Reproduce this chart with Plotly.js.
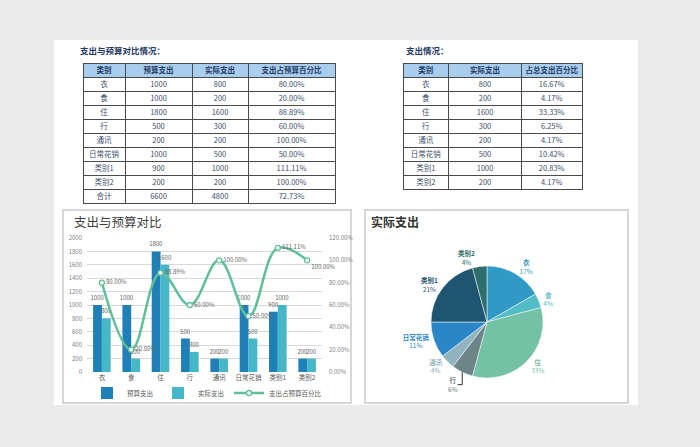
<!DOCTYPE html>
<html><head><meta charset="utf-8">
<script src="https://cdn.plot.ly/plotly-3.0.1.min.js"></script>
<style>html,body{margin:0;padding:0;background:#ebebeb}</style>
</head><body><div id="chart" style="width:700px;height:447px"></div>
<script>
// ---- data ----
const categories = ['衣','食','住','行','通讯','日常花销','类别1','类别2'];
const budget = [1000,1000,1800,500,200,1000,900,200];
const actual = [800,200,1600,300,200,500,1000,200];
const pieShareLabels = ['17%','4%','33%','6%','4%','11%','21%','4%'];
const table1Header = ['类别','预算支出','实际支出','支出占预算百分比'];
const table2Header = ['类别','实际支出','占总支出百分比'];
const totalLabel = '合计';
const seriesNames = ['预算支出','实际支出','支出占预算百分比'];

// ---- derived ----
const pct = v => (v*100).toFixed(2) + '%';
const totalBudget = budget.reduce((a,b)=>a+b,0);
const totalActual = actual.reduce((a,b)=>a+b,0);
const ratio = actual.map((a,i)=>a/budget[i]);
const ratioText = ratio.map(pct);
const t1cat = categories.concat([totalLabel]);
const t1bud = budget.concat([totalBudget]);
const t1act = actual.concat([totalActual]);
const t1pct = ratioText.concat([pct(totalActual/totalBudget)]);
const t2pct = actual.map(a=>pct(a/totalActual));

// ---- layout helpers ----
const W=700,H=447;
const px = x => x/W, py = y => 1 - y/H;
const FONT = '"Noto Sans CJK SC", "Noto Sans", sans-serif';
const pieColors = ['#3199c5','#52bcc6','#74c1a5','#6b8589','#90b3bd','#2a86c6','#1f5570','#2e6e6c'];
const TXT_LIFT = 3.5; // table text lifted to sit centred in 14px rows

// two stacked table traces per table: a grid layer (fills + borders, blank text)
// and a text layer (no fills/borders) lifted slightly so the text is centred in each row
function makeTable(header, cols, widths, x0, x1, top, textLayer){
  const clear = 'rgba(0,0,0,0)';
  const t = top - (textLayer ? TXT_LIFT : 0);
  const hv = textLayer ? header : header.map(()=>'');
  const cv = textLayer ? cols : cols.map(c=>c.map(()=>''));
  return {type:'table', domain:{x:[px(x0),px(x1)], y:[0.5,py(t)]},
    columnwidth:widths,
    header:{values:hv, fill:{color: textLayer ? clear : '#a9cdec'},
            line:{color:'#4a4a4a', width: textLayer ? 0 : 1},
            font:{family:FONT,size:7.5,weight:'bold',color:'#1f3864'}, align:'center', height:14},
    cells:{values:cv, fill:{color: textLayer ? clear : '#ffffff'},
           line:{color:'#4a4a4a', width: textLayer ? 0 : 1},
           font:{family:FONT,size:7.5,color:'#3d4f6e'}, align:'center', height:14}};
}

const t1cols = [t1cat,t1bud,t1act,t1pct];
const t2cols = [categories,actual,t2pct];

const traces = [
  makeTable(table1Header, t1cols, [42,67,56,87], 83, 335, 63, false),
  makeTable(table1Header, t1cols, [42,67,56,87], 83, 335, 63, true),
  makeTable(table2Header, t2cols, [46,73,61], 403, 583, 63, false),
  makeTable(table2Header, t2cols, [46,73,61], 403, 583, 63, true),
  {type:'bar', x:categories, y:budget, name:seriesNames[0], xaxis:'x', yaxis:'y',
   marker:{color:'#1f80b7'}, text:budget.map(String), textposition:'outside', cliponaxis:false,
   constraintext:'none', textangle:0, textfont:{family:FONT,size:6,color:'#666'}},
  {type:'bar', x:categories, y:actual, name:seriesNames[1], xaxis:'x', yaxis:'y',
   marker:{color:'#46b6c9'}, text:actual.map(String), textposition:'outside', cliponaxis:false,
   constraintext:'none', textangle:0, textfont:{family:FONT,size:6,color:'#666'}},
  {type:'scatter', x:categories, y:ratio, name:seriesNames[2], xaxis:'x', yaxis:'y2',
   mode:'lines+markers+text', line:{shape:'spline', smoothing:1.1, color:'#5ebf99', width:2.5},
   marker:{size:5, color:'#ffffff', line:{color:'#5ebf99', width:1.3}},
   text:ratioText, textposition:['middle right','middle right','middle right','middle right','middle right','middle right','middle right','bottom right'],
   textfont:{family:FONT,size:6,color:'#666'}, cliponaxis:false},
  {type:'pie', labels:categories, values:actual, sort:false, direction:'clockwise', rotation:0,
   domain:{x:[px(431),px(543)], y:[py(378),py(266)]},
   marker:{colors:pieColors, line:{color:'#ffffff', width:0.5}},
   text:pieShareLabels, texttemplate:'<b>%{label}</b><br>%{text}', textposition:'outside',
   textfont:{family:FONT,size:6.5,color:pieColors}, showlegend:false}
];

const layout = {
  width:W, height:H, margin:{l:0,r:0,t:0,b:0},
  paper_bgcolor:'#ebebeb', plot_bgcolor:'rgba(0,0,0,0)',
  font:{family:FONT},
  barmode:'group', bargap:0.4, bargroupgap:0,
  xaxis:{domain:[px(87),px(322)], anchor:'y', showgrid:false, zeroline:false, showline:false, ticks:'',
         tickfont:{family:FONT,size:6.5,color:'#595959'}, fixedrange:true},
  yaxis:{domain:[py(372),py(238)], range:[0,2000], dtick:200, gridcolor:'#d9d9d9', gridwidth:1,
         zeroline:false, showline:false, ticks:'', tickfont:{family:FONT,size:6,color:'#7f7f7f'}, ticklabelstandoff:4},
  yaxis2:{overlaying:'y', side:'right', anchor:'x', range:[0,1.2], dtick:0.2, tickformat:'.2%', showgrid:false,
          zeroline:false, showline:false, ticks:'', tickfont:{family:FONT,size:6,color:'#7f7f7f'}, ticklabelstandoff:6},
  showlegend:true,
  legend:{orientation:'h', x:px(207), xanchor:'center', y:py(393), yanchor:'middle',
          font:{family:FONT,size:6.5,color:'#595959'}, bgcolor:'rgba(0,0,0,0)', traceorder:'normal',
          itemwidth:30, tracegroupgap:0},
  shapes:[
    {type:'rect', xref:'paper', yref:'paper', x0:px(54), x1:px(638), y0:py(405), y1:py(40),
     fillcolor:'#ffffff', line:{width:0}, layer:'below'},
    {type:'rect', xref:'paper', yref:'paper', x0:px(63), x1:px(351), y0:py(403), y1:py(210),
     fillcolor:'rgba(0,0,0,0)', line:{color:'#c9c9c9', width:1.5}, layer:'below'},
    {type:'rect', xref:'paper', yref:'paper', x0:px(365), x1:px(628), y0:py(403), y1:py(210),
     fillcolor:'rgba(0,0,0,0)', line:{color:'#c9c9c9', width:1.5}, layer:'below'}
  ],
  annotations:[
    {text:'<b>支出与预算对比情况：</b>', xref:'paper', yref:'paper', x:px(78), y:py(50), xanchor:'left', yanchor:'middle',
     showarrow:false, font:{family:FONT,size:8.5,color:'#1f3864'}},
    {text:'<b>支出情况：</b>', xref:'paper', yref:'paper', x:px(404), y:py(50), xanchor:'left', yanchor:'middle',
     showarrow:false, font:{family:FONT,size:8.5,color:'#1f3864'}},
    {text:'支出与预算对比', xref:'paper', yref:'paper', x:px(72), y:py(222), xanchor:'left', yanchor:'middle',
     showarrow:false, font:{family:FONT,size:12.5,color:'#404040'}},
    {text:'<b>实际支出</b>', xref:'paper', yref:'paper', x:px(369), y:py(222), xanchor:'left', yanchor:'middle',
     showarrow:false, font:{family:FONT,size:12,color:'#333333'}}
  ]
};

Plotly.newPlot('chart', traces, layout, {staticPlot:true, displayModeBar:false});
</script></body></html>
